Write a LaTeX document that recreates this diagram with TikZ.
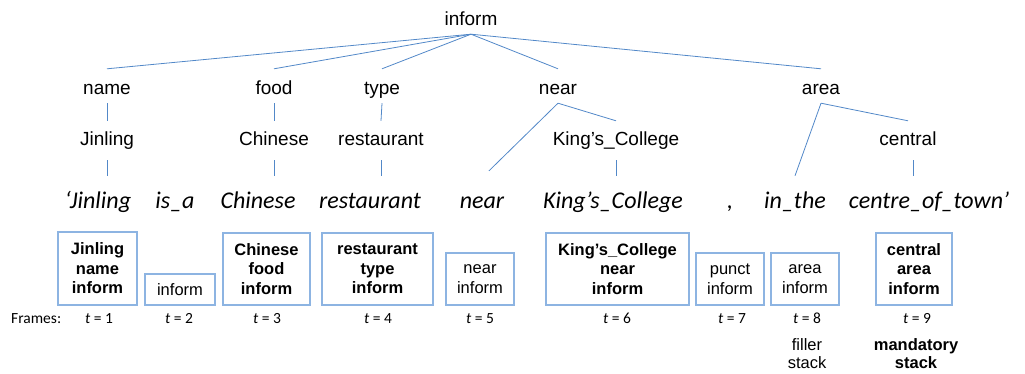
\documentclass[tikz,border=0pt]{standalone}
\usepackage{fontspec}
\setmainfont{Liberation Sans}
\newfontfamily\calibri{Carlito}
\usetikzlibrary{calc}
\definecolor{treeblue}{RGB}{82,136,200}
\definecolor{boxblue}{RGB}{141,180,226}
\begin{document}
\begin{tikzpicture}[x=1pt,y=-1pt,
  lbl/.style={anchor=base,inner sep=0pt,font=\fontsize{19}{22}\selectfont},
  top/.style={lbl,text height=8pt,text depth=8pt},
  row1/.style={lbl,text height=26pt,text depth=8pt},
  row2/.style={lbl,text height=25pt,text depth=14pt},
  word/.style={anchor=base,inner sep=0pt,text height=32pt,text depth=6pt,font=\calibri\itshape\fontsize{24}{28}\selectfont},
  edge/.style={draw=treeblue,line width=0.8pt},
  frame/.style={draw=boxblue,line width=1.4pt,align=center,inner sep=0pt,
    font=\fontsize{16.5}{19.5}\selectfont},
  bframe/.style={frame,font=\bfseries\fontsize{16.5}{19.5}\selectfont},
  tlab/.style={anchor=base,inner sep=0pt,font=\calibri\fontsize{15.5}{18}\selectfont},
  note/.style={anchor=base,inner sep=0pt,align=center,font=\fontsize{16.5}{18}\selectfont}]
\useasboundingbox (0,0) rectangle (1025,374);
% tree
\node[top] (inform) at (471,26) {inform};
\node[row1] (name) at (107,95) {name};
\node[row1] (food) at (274,95) {food};
\node[row1] (type) at (382,95) {type};
\node[row1] (near) at (558,95) {near};
\node[row1] (area) at (821,95) {area};
\node[row2] (jinling) at (107,146) {Jinling};
\node[row2] (chinese) at (274,146) {Chinese};
\node[row2] (restaurant) at (381,146) {restaurant};
\node[row2] (kings) at (616,146) {King’s\_College};
\node[row2] (central) at (908,146) {central};
% sentence
\node[word] (w1) at (98,208) {‘Jinling};
\node[word] (w2) at (175,208) {is\_a};
\node[word] (w3) at (258,208) {Chinese};
\node[word] (w4) at (370,208) {restaurant};
\node[word] (w5) at (482,208) {near};
\node[word] (w6) at (613,208) {King’s\_College};
\node[word] (w7) at (730,208) {,};
\node[word] (w8) at (795,208) {in\_the};
\node[word] (w9) at (929,208) {centre\_of\_town’};
% edges
\foreach \c in {name,food,type,near,area}
  \draw[edge] (inform.south) -- (\c.north);
\draw[edge] (name.south) -- (jinling.north);
\draw[edge] (food.south) -- (chinese.north);
\draw[edge] (type.south) -- (restaurant.north);
\draw[edge] (near.south) -- (kings.north);
\draw[edge] (area.south) -- (central.north);
\draw[edge] (near.south) -- ($(w5.north)+(7,-5)$);
\draw[edge] (area.south) -- (w8.north);
\draw[edge] (jinling.south) -- (jinling.south |- w1.north);
\draw[edge] (chinese.south) -- (chinese.south |- w3.north);
\draw[edge] (restaurant.south) -- (restaurant.south |- w4.north);
\draw[edge] (kings.south) -- (kings.south |- w6.north);
\draw[edge] ($(central.south)+(5,0)$) -- ($(central.south |- w9.north)+(5,0)$);
% frames
\node[bframe,minimum width=79pt,minimum height=73pt] (f1) at (97.5,268.5) {Jinling\\name\\inform};
\node[frame,minimum width=70pt,minimum height=31pt] (f2) at (180,289.5) {inform};
\node[bframe,minimum width=87pt,minimum height=72pt] (f3) at (266.5,269) {Chinese\\food\\inform};
\node[bframe,minimum width=111pt,minimum height=72pt] (f4) at (377.5,269) {restaurant\\type\\inform};
\node[frame,minimum width=68pt,minimum height=52pt] (f5) at (480,279) {near\\inform};
\node[bframe,minimum width=143pt,minimum height=72pt] (f6) at (617.5,269) {King’s\_College\\near\\inform};
\node[frame,minimum width=68pt,minimum height=52pt] (f7) at (730,279) {punct\\inform};
\node[frame,minimum width=68pt,minimum height=52pt] (f8) at (805,279) {area\\inform};
\node[bframe,minimum width=76pt,minimum height=72pt] (f9) at (914,269) {central\\area\\inform};
% frame labels
\node[tlab,anchor=base west] (frames) at (11,323) {Frames:};
\node[tlab] (t1) at (99,323) {\textit{t} = 1};
\node[tlab] (t2) at (179,323) {\textit{t} = 2};
\node[tlab] (t3) at (267,323) {\textit{t} = 3};
\node[tlab] (t4) at (378,323) {\textit{t} = 4};
\node[tlab] (t5) at (480,323) {\textit{t} = 5};
\node[tlab] (t6) at (617,323) {\textit{t} = 6};
\node[tlab] (t7) at (732,323) {\textit{t} = 7};
\node[tlab] (t8) at (807,323) {\textit{t} = 8};
\node[tlab] (t9) at (917,323) {\textit{t} = 9};
\node[note] (filler) at (807,368) {filler\\stack};
\node[note,font=\bfseries\fontsize{16.5}{18}\selectfont] (mand) at (916,368) {mandatory\\stack};
\end{tikzpicture}
\end{document}
